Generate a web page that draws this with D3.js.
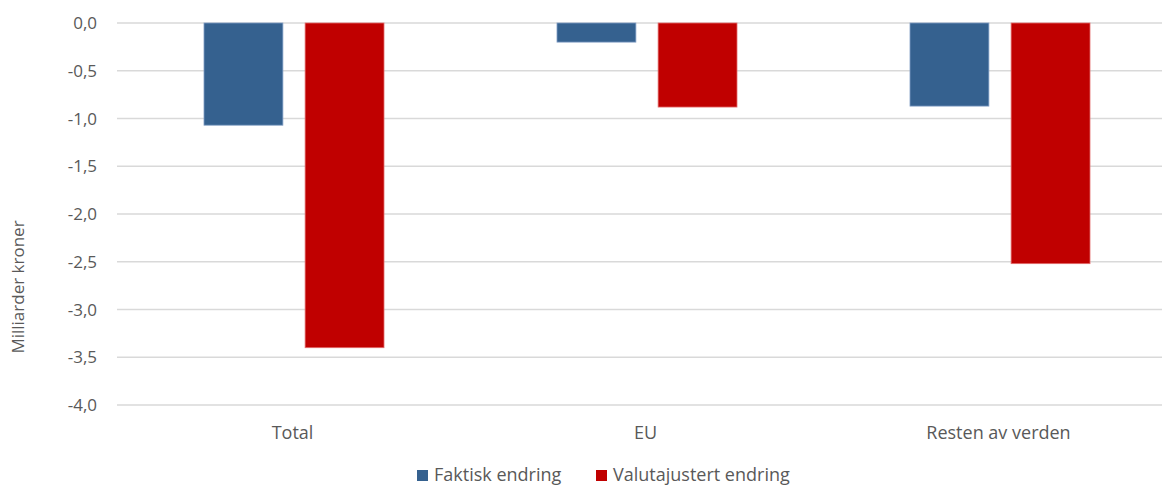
<!DOCTYPE html>
<meta charset="utf-8">
<head>
    <title>Endring</title>
    <script src="https://d3js.org/d3.v7.min.js"></script>
    <style>
        body { margin: 0; background: #fff; }
        text { font-family: "Open Sans", "Liberation Sans", sans-serif; fill: #595959; }
    </style>
</head>
<body>
    <svg width="1162" height="485"></svg>
    <script>
        // data
        var categories = ["Total", "EU", "Resten av verden"];
        var seriesNames = ["Faktisk endring", "Valutajustert endring"];
        var faktisk = [-1.07, -0.20, -0.87];
        var valutajustert = [-3.40, -0.88, -2.52];
        var yTicks = [0, -0.5, -1, -1.5, -2, -2.5, -3, -3.5, -4];
        var colors = ["#35618f", "#c00000"];
        var strokes = ["#7f9cc4", "#e36c6c"];

        var svg = d3.select("svg");

        var x = d3.scaleBand()
            .domain(categories)
            .range([118, 1177]);

        var x1 = d3.scaleBand()
            .domain(seriesNames)
            .range([86, 266])
            .paddingInner(0.22);

        var y = d3.scaleLinear()
            .domain([0, -4])
            .range([23, 405]);

        // gridlines
        svg.append("g")
            .selectAll("line")
            .data(yTicks)
            .enter().append("line")
            .attr("x1", 117)
            .attr("x2", 1162)
            .attr("y1", d => y(d))
            .attr("y2", d => y(d))
            .attr("stroke", "#d9d9d9")
            .attr("stroke-width", 1.3);

        // y tick labels
        var fmt = d => d3.format(".1f")(d).replace(".", ",").replace("−", "-");
        svg.append("g")
            .selectAll("text")
            .data(yTicks)
            .enter().append("text")
            .attr("x", 97)
            .attr("y", d => y(d) + 6)
            .attr("text-anchor", "end")
            .style("font-size", "17px")
            .text(d => d === 0 ? "0,0" : fmt(d));

        // bars
        var rows = categories.map((c, i) => ({ cat: c, vals: [faktisk[i], valutajustert[i]] }));
        var groups = svg.append("g")
            .selectAll("g")
            .data(rows)
            .enter().append("g")
            .attr("transform", d => "translate(" + x(d.cat) + ",0)");

        groups.selectAll("rect")
            .data(d => d.vals.map((v, j) => ({ name: seriesNames[j], v: v, j: j })))
            .enter().append("rect")
            .attr("x", d => x1(d.name))
            .attr("width", x1.bandwidth())
            .attr("y", y(0))
            .attr("height", d => y(d.v) - y(0))
            .attr("fill", d => colors[d.j])
            .attr("stroke", d => strokes[d.j])
            .attr("stroke-width", 0.8);

        // category labels
        svg.append("g")
            .selectAll("text")
            .data(categories)
            .enter().append("text")
            .attr("x", d => x(d) + x.bandwidth() / 2 - 2)
            .attr("y", 439)
            .attr("text-anchor", "middle")
            .style("font-size", "18px")
            .text(d => d);

        // y axis title
        svg.append("text")
            .attr("transform", "translate(24,287) rotate(-90)")
            .attr("text-anchor", "middle")
            .style("font-size", "17px")
            .text("Milliarder kroner");

        // legend
        var legendX = [417, 596];
        var legend = svg.append("g")
            .selectAll("g")
            .data(seriesNames)
            .enter().append("g")
            .attr("transform", (d, i) => "translate(" + legendX[i] + ",470)");
        legend.append("rect")
            .attr("width", 11)
            .attr("height", 11)
            .attr("fill", (d, i) => colors[i]);
        legend.append("text")
            .attr("x", 17)
            .attr("y", 11)
            .style("font-size", "18px")
            .text(d => d);
    </script>
</body>
